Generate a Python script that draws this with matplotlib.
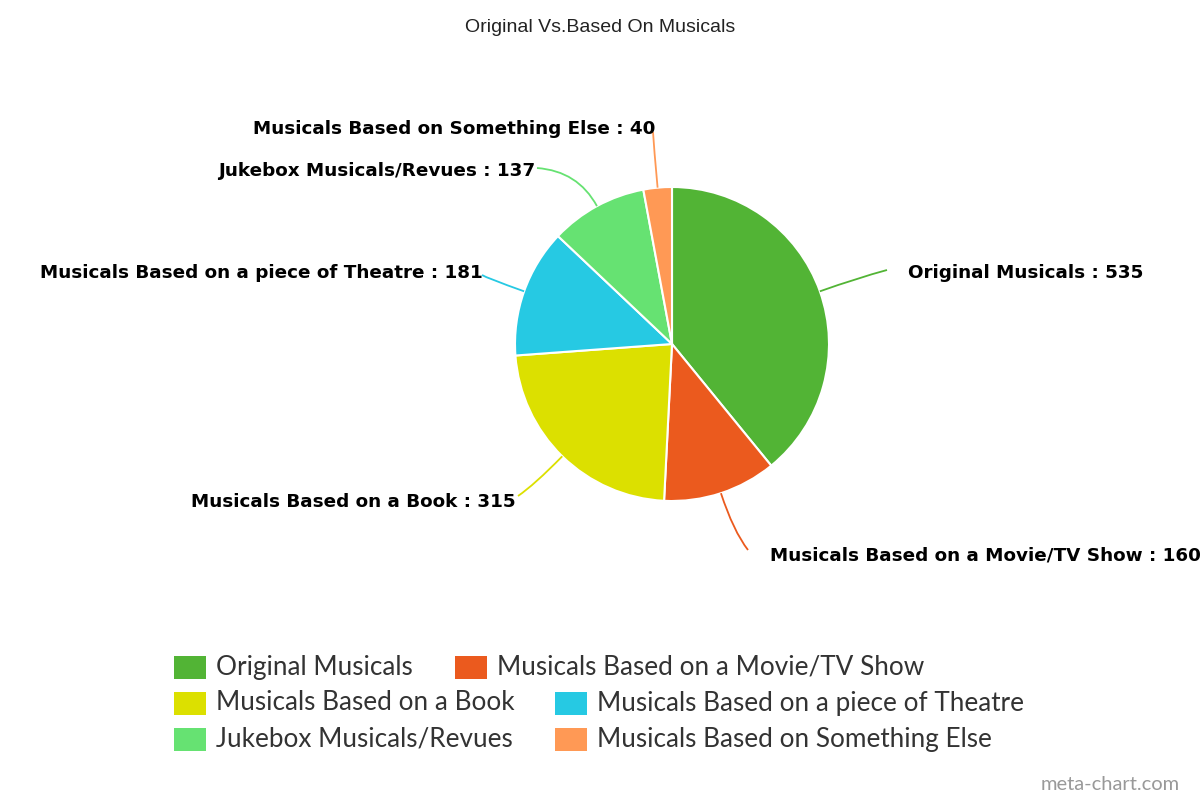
import numpy as np
import matplotlib.pyplot as plt
from matplotlib.path import Path
from matplotlib.patches import PathPatch, Rectangle

categories = ["Original Musicals", "Musicals Based on a Movie/TV Show",
              "Musicals Based on a Book", "Musicals Based on a piece of Theatre",
              "Jukebox Musicals/Revues", "Musicals Based on Something Else"]
values = [535, 160, 315, 181, 137, 40]
colors = ["#52b435", "#eb5a1e", "#dce000", "#26c9e3", "#66e272", "#ff9955"]

W, H = 1200, 800


def py(y):
    # pixel rows from the top -> data y
    return H - y


fig = plt.figure(figsize=(12, 8), dpi=100)
ax = fig.add_axes([0, 0, 1, 1])

cx, cy, r = 672, py(344), 157
wedges, _ = ax.pie(values, colors=colors, startangle=90, counterclock=False,
                   center=(cx, cy), radius=r,
                   wedgeprops=dict(edgecolor="white", linewidth=1.5))
ax.set_xlim(0, W)
ax.set_ylim(0, H)
ax.set_aspect("equal")
ax.axis("off")

# leader line end points and label anchors (pixels)
line_ends = [(887, 270), (748, 550), (518, 496), (482, 275), (537, 168), (653, 132)]
label_pos = [(908, 273, "left"), (770, 555, "left"), (516, 502, "right"),
             (483, 273, "right"), (535, 171, "right"), (655, 129, "right")]

for w, (ex, ey), (lx, ly, ha), name, val in zip(wedges, line_ends, label_pos,
                                                 categories, values):
    a = np.deg2rad((w.theta1 + w.theta2) / 2)
    p0 = (cx + r * np.cos(a), cy + r * np.sin(a))
    p1 = (cx + (r + 40) * np.cos(a), cy + (r + 40) * np.sin(a))
    path = Path([p0, p1, (ex, py(ey))], [Path.MOVETO, Path.CURVE3, Path.CURVE3])
    ax.add_patch(PathPatch(path, facecolor="none", edgecolor=w.get_facecolor(),
                           linewidth=1.3))
    ax.text(lx, py(ly), f"{name} : {val}", ha=ha, va="center",
            fontsize=13.2, fontweight="bold", family="DejaVu Sans",
            color="black", clip_on=False)

fig.text(0.5, py(27) / H, "Original Vs.Based On Musicals", ha="center",
         va="center", fontsize=14, family="Liberation Sans", color="#222222")

# legend, laid out like the original flow legend
leg_x = [174, 455, 174, 555, 174, 555]
leg_y = [667, 667, 703, 703, 739, 739]
for name, col, lx, ly in zip(categories, colors, leg_x, leg_y):
    ax.add_patch(Rectangle((lx, py(ly) - 11.5), 32, 23, facecolor=col,
                           edgecolor="none"))
    ax.text(lx + 42, py(ly), name, ha="left", va="center", fontsize=18.8,
            family="Lato", color="#333333")

fig.text(1180 / W, py(784) / H, "meta-chart.com", ha="right", va="center",
         fontsize=14.5, family="Lato", color="#999999")

plt.savefig("out.png", dpi=100)
